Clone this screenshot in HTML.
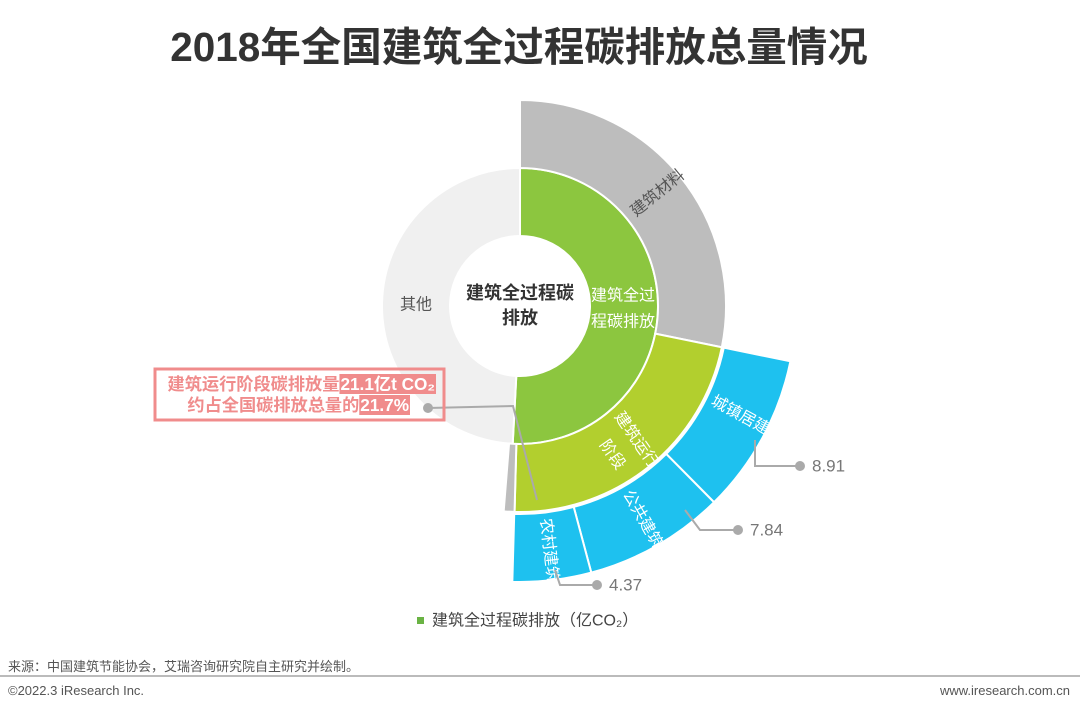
<!DOCTYPE html>
<html><head><meta charset="utf-8">
<style>
body{margin:0;background:#fff;font-family:"Liberation Sans","Noto Sans CJK SC",sans-serif;}
#wrap{position:relative;width:1080px;height:710px;overflow:hidden;}
#title{position:absolute;left:-21px;width:1080px;top:14px;text-align:center;font-size:40.5px;font-weight:bold;color:#333;}
.foot{position:absolute;font-size:13px;color:#555;}
</style></head>
<body>
<div id="wrap">
<div id="title">2018年全国建筑全过程碳排放总量情况</div>
<svg id="chart" width="1080" height="710" style="position:absolute;left:0;top:0"></svg>
<div class="foot" style="left:8px;top:656px;">来源：中国建筑节能协会，艾瑞咨询研究院自主研究并绘制。</div>
<div style="position:absolute;left:0;top:675px;width:1080px;height:2px;background:#bbb"></div>
<div class="foot" style="left:8px;top:683px;">©2022.3 iResearch Inc.</div>
<div class="foot" style="right:10px;top:683px;">www.iresearch.com.cn</div>
</div>
<script>
const ring1Labels=["建筑全过程碳排放","其他"];
const ring1Values=[48.3,46.7];
const ring2Labels=["建筑材料","建筑运行阶段","建筑施工"];
const ring2Values=[26.8,21.1,0.8];
const ring3Labels=["城镇居建","公共建筑","农村建筑"];
const ring3Values=[8.91,7.84,4.37];
const TOTAL=95;

const svg=document.getElementById('chart');
const NS='http://www.w3.org/2000/svg';
const cx=520,cy=306;
function ang(v){return v/TOTAL*360;}
function pt(r,a){const t=a*Math.PI/180;return [cx+r*Math.sin(t),cy-r*Math.cos(t)];}
function arc(r0,r1,a0,a1,fill){
  const p=document.createElementNS(NS,'path');
  const L=(a1-a0)>180?1:0;
  const A=pt(r1,a0),B=pt(r1,a1),C=pt(r0,a1),D=pt(r0,a0);
  p.setAttribute('d',`M${A}A${r1},${r1} 0 ${L} 1 ${B}L${C}A${r0},${r0} 0 ${L} 0 ${D}Z`);
  p.setAttribute('fill',fill);p.setAttribute('stroke','#fff');p.setAttribute('stroke-width','2');
  svg.appendChild(p);return p;
}
function txt(x,y,s,opt){
  const t=document.createElementNS(NS,'text');
  t.setAttribute('x',x);t.setAttribute('y',y);t.textContent=s;
  t.setAttribute('font-size',opt.size||15);t.setAttribute('fill',opt.fill||'#fff');
  t.setAttribute('text-anchor','middle');t.setAttribute('dominant-baseline','central');
  if(opt.rot!==undefined)t.setAttribute('transform',`rotate(${opt.rot} ${x} ${y})`);
  if(opt.bold)t.setAttribute('font-weight','bold');
  svg.appendChild(t);return t;
}
const c1=['#8cc63f','#f0f0f0'];
let a=0;
ring1Values.forEach((v,i)=>{const e=ang(v);const p=arc(70,138,a,a+e,c1[i]);

a+=e;});
const c2=['#bdbdbd','#b2cf2e','#bdbdbd'];
a=0;
ring2Values.forEach((v,i)=>{const e=ang(v);const p=arc(138,206,a,a+e,c2[i]);

a+=e;});
let a3=ang(ring2Values[0]);
const r3mid=[];
ring3Values.forEach((v,i)=>{const e=ang(v);const p=arc(208,276,a3,a3+e,'#1ec1ef');

r3mid.push(a3+e/2);a3+=e;});
txt(520,293,'建筑全过程碳',{size:18,fill:'#333',bold:true});
txt(520,318,'排放',{size:18,fill:'#333',bold:true});
txt(416,305,'其他',{size:16,fill:'#555'});
txt(623,296,'建筑全过',{size:16});
txt(623,322,'程碳排放',{size:16});
{const m=ang(ring2Values[0])/2;const p=pt(178,m);txt(p[0],p[1],'建筑材料',{size:16,fill:'#555',rot:m-90});}
txt(636,440,'建筑运行',{size:16,rot:55});
txt(612,455,'阶段',{size:16,rot:55});
r3mid.forEach((m,i)=>{const p=pt(246,m-(i==0?2:0));txt(p[0],p[1],ring3Labels[i],{size:16,rot:m-90});});
const leaders=[[755,440,755,466,800,466],[685,510,700,530,738,530],[555,570,560,585,597,585]];
ring3Values.forEach((v,i)=>{
  const L=leaders[i];
  const pl=document.createElementNS(NS,'polyline');
  pl.setAttribute('points',`${L[0]},${L[1]} ${L[2]},${L[3]} ${L[4]},${L[5]}`);
  pl.setAttribute('fill','none');pl.setAttribute('stroke','#aaa');pl.setAttribute('stroke-width','2');
  svg.appendChild(pl);
  const c=document.createElementNS(NS,'circle');c.setAttribute('cx',L[4]);c.setAttribute('cy',L[5]);c.setAttribute('r',5);c.setAttribute('fill','#aaa');svg.appendChild(c);
  const t=txt(L[4]+12,L[5],v.toFixed(2),{size:17,fill:'#777'});t.setAttribute('text-anchor','start');
  
  
});
const cl=document.createElementNS(NS,'polyline');
cl.setAttribute('points','428,408 513,406 537,500');cl.setAttribute('fill','none');cl.setAttribute('stroke','#aaa');cl.setAttribute('stroke-width','2');svg.appendChild(cl);
const rc=document.createElementNS(NS,'rect');
rc.setAttribute('x',155);rc.setAttribute('y',369);rc.setAttribute('width',289);rc.setAttribute('height',51);
rc.setAttribute('fill','none');rc.setAttribute('stroke','#f08c8c');rc.setAttribute('stroke-width','3');svg.appendChild(rc);


function calloutLine(y,plain,hi,right){
  const g=document.createElementNS(NS,'g');svg.appendChild(g);
  const r=document.createElementNS(NS,'rect');g.appendChild(r);
  const t1=document.createElementNS(NS,'text');t1.setAttribute('font-size',17.2);t1.setAttribute('font-weight','bold');t1.setAttribute('fill','#f08c8c');t1.setAttribute('y',y);t1.setAttribute('dominant-baseline','central');t1.textContent=plain;g.appendChild(t1);
  const t2=document.createElementNS(NS,'text');t2.setAttribute('font-size',17.2);t2.setAttribute('font-weight','bold');t2.setAttribute('fill','#fff');t2.setAttribute('y',y);t2.setAttribute('dominant-baseline','central');t2.textContent=hi;g.appendChild(t2);
  const w1=t1.getComputedTextLength(),w2=t2.getComputedTextLength();
  const x0=right-w1-w2-2;
  t1.setAttribute('x',x0);t2.setAttribute('x',x0+w1+1);
  r.setAttribute('x',x0+w1);r.setAttribute('y',y-10);r.setAttribute('width',w2+2);r.setAttribute('height',20);r.setAttribute('fill','#f08c8c');
}
calloutLine(384,'建筑运行阶段碳排放量','21.1亿t CO₂',436);
calloutLine(405,'约占全国碳排放总量的','21.7%',410);
const cd=document.createElementNS(NS,'circle');cd.setAttribute('cx',428);cd.setAttribute('cy',408);cd.setAttribute('r',5);cd.setAttribute('fill','#aaa');svg.appendChild(cd);
const lg=document.createElementNS(NS,'rect');lg.setAttribute('x',417);lg.setAttribute('y',617);lg.setAttribute('width',7);lg.setAttribute('height',7);lg.setAttribute('fill','#6ab344');svg.appendChild(lg);


let lt=txt(432,621,'建筑全过程碳排放（亿CO₂）',{size:16,fill:'#444'});lt.setAttribute('text-anchor','start');


</script>
</body></html>
